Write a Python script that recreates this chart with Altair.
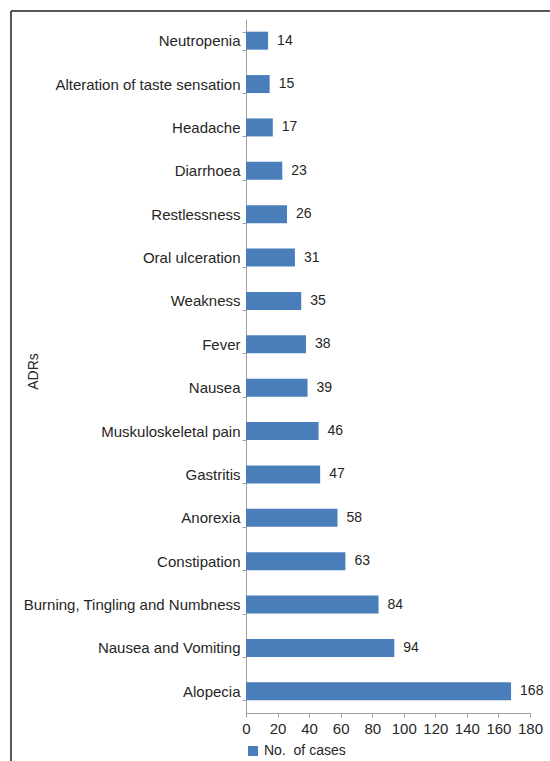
import altair as alt
import pandas as pd

# Adverse drug reactions, listed top to bottom, with case counts
adrs = [
    "Neutropenia",
    "Alteration of taste sensation",
    "Headache",
    "Diarrhoea",
    "Restlessness",
    "Oral ulceration",
    "Weakness",
    "Fever",
    "Nausea",
    "Muskuloskeletal pain",
    "Gastritis",
    "Anorexia",
    "Constipation",
    "Burning, Tingling and Numbness",
    "Nausea and Vomiting",
    "Alopecia",
]
cases = [14, 15, 17, 23, 26, 31, 35, 38, 39, 46, 47, 58, 63, 84, 94, 168]
x_ticks = [0, 20, 40, 60, 80, 100, 120, 140, 160, 180]
series_name = "No.\u00a0 of cases"

BLUE = "#4A7EBB"
TEXT = "#262626"
AXIS = "#A0A0A0"
FONT = "Liberation Sans"

df = pd.DataFrame({"adr": adrs, "cases": cases, "series": series_name})

# tickCount must be at least the number of explicit values, or Vega thins them out
x_axis = alt.Axis(
    title=None,
    values=x_ticks,
    tickCount=len(x_ticks),
    grid=False,
    labelOverlap=False,
    labelFlush=False,
    labelFont=FONT,
    labelFontSize=15,
    labelColor=TEXT,
    labelPadding=4,
    tickSize=4,
    tickColor=AXIS,
    domainColor=AXIS,
)

base = alt.Chart(df).encode(
    x=alt.X("cases:Q", scale=alt.Scale(domain=[0, 180], nice=False), axis=x_axis),
    y=alt.Y(
        "adr:N",
        sort=adrs,
        scale=alt.Scale(paddingInner=0.585, paddingOuter=0.2925),
        axis=alt.Axis(
            title="ADRs",
            titleAngle=270,
            titleX=-209,
            titleY=352,
            titleBaseline="alphabetic",
            titleFontSize=14,
            titleFontWeight="normal",
            titleColor=TEXT,
            titleFont=FONT,
            labelFont=FONT,
            labelFontSize=15,
            labelColor=TEXT,
            labelPadding=2,
            tickSize=4,
            tickBand="extent",
            tickColor=AXIS,
            domainColor=AXIS,
            labelLimit=400,
        ),
    ),
)

bars = base.mark_bar(size=18).encode(
    color=alt.Color(
        "series:N",
        scale=alt.Scale(range=[BLUE]),
        legend=alt.Legend(
            title=None,
            orient="none",
            legendX=0,
            legendY=725,
            symbolType="square",
            symbolSize=100,
            symbolStrokeWidth=0,
            labelFont=FONT,
            labelFontSize=14,
            labelColor=TEXT,
            labelOffset=4,
            padding=0,
        ),
    ),
)

values = base.mark_text(
    align="left", baseline="middle", dx=9, font=FONT, fontSize=14, color=TEXT
).encode(text="cases:Q")

frame_data = alt.Data(values=[{}])
frame_left = alt.Chart(frame_data).mark_rule(color="#222222", strokeWidth=1.5).encode(
    x=alt.value(-235), y=alt.value(-8), y2=alt.value(760)
)
frame_top = alt.Chart(frame_data).mark_rule(color="#222222", strokeWidth=1.5).encode(
    x=alt.value(-235), x2=alt.value(310), y=alt.value(-8)
)

chart = (
    alt.layer(bars, values, frame_left, frame_top)
    .properties(
        width=284,
        height=694,
        autosize=alt.AutoSizeParams(type="none"),
        padding={"left": 246, "top": 19, "right": 20, "bottom": 48},
        background="white",
    )
    .configure_view(stroke=None)
)

chart.save("out.html", embed_options={"renderer": "svg", "actions": False})
